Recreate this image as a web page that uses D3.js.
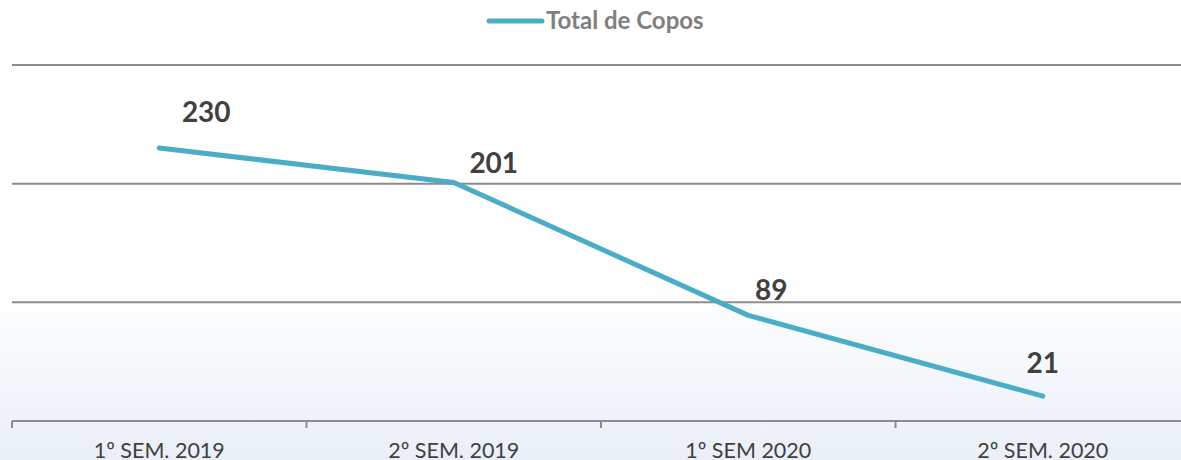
<!DOCTYPE html>
<html><head><meta charset="utf-8">
<script src="https://cdn.jsdelivr.net/npm/d3@7"></script>
<style>html,body{margin:0;padding:0;background:#fff;}svg{display:block;}</style>
</head><body>
<svg id="chart" width="1181" height="460"></svg>
<script>
const categories = ["1º SEM. 2019", "2º SEM. 2019", "1º SEM 2020", "2º SEM. 2020"];
const totalCopos = [230, 201, 89, 21];
const seriesName = "Total de Copos";
const yTicks = [0, 100, 200, 300];

const W = 1181, H = 460;
const svg = d3.select("#chart");
const defs = svg.append("defs");
const grad = defs.append("linearGradient").attr("id","bg").attr("x1",0).attr("y1",0).attr("x2",0).attr("y2",1);
grad.append("stop").attr("offset","0%").attr("stop-color","#ffffff");
grad.append("stop").attr("offset","62%").attr("stop-color","#ffffff");
grad.append("stop").attr("offset","100%").attr("stop-color","#eaeff7");
svg.append("rect").attr("width",W).attr("height",H).attr("fill","url(#bg)");

const x = d3.scaleBand().domain(categories).range([12, 1190]);
const y = d3.scaleLinear().domain([0, 300]).range([421, 65]);
const font = "Lato, 'Open Sans', sans-serif";

// gridlines
svg.append("g").selectAll("line").data(yTicks.filter(d => d > 0)).join("line")
  .attr("x1", 12).attr("x2", W).attr("y1", d => y(d)).attr("y2", d => y(d))
  .attr("stroke", "#8c8c8c").attr("stroke-width", 2);

// x axis
const xAxis = svg.append("g").attr("transform", `translate(0,${y(0)})`)
  .call(d3.axisBottom(x).tickSize(0).tickPadding(0));
xAxis.select(".domain").remove();
xAxis.selectAll("text").remove();
xAxis.append("line").attr("x1", 12).attr("x2", W).attr("stroke", "#8c8c8c").attr("stroke-width", 2);
const bounds = categories.map(c => x(c));
xAxis.selectAll(".tk").data(bounds).join("line").attr("class","tk")
  .attr("x1", d => d).attr("x2", d => d).attr("y1", 0).attr("y2", 7)
  .attr("stroke", "#8c8c8c").attr("stroke-width", 2);
xAxis.selectAll(".lbl").data(categories).join("text").attr("class","lbl")
  .attr("x", d => x(d) + x.bandwidth()/2).attr("y", 37)
  .attr("text-anchor","middle").attr("font-family", font).attr("font-size", 21.5)
  .attr("fill", "#404040").text(d => d);

// line
const cx = (d,i) => x(categories[i]) + x.bandwidth()/2;
const line = d3.line().x(cx).y(d => y(d));
svg.append("path").datum(totalCopos).attr("d", line)
  .attr("fill","none").attr("stroke","#4bacc6").attr("stroke-width",5)
  .attr("stroke-linecap","round").attr("stroke-linejoin","round");

// data labels (label offsets relative to the point)
const labelOffsets = [[47, -26], [40, -9], [23, -15], [0, -23]];
svg.append("g").selectAll("text").data(totalCopos).join("text")
  .attr("x", (d,i) => cx(d,i) + labelOffsets[i][0])
  .attr("y", (d,i) => y(d) + labelOffsets[i][1])
  .attr("text-anchor","middle").attr("font-family", font).attr("font-weight","bold")
  .attr("font-size", 28).attr("fill","#404040").text(d => d);

// legend
const lg = svg.append("g");
lg.append("line").attr("x1", 489).attr("x2", 542).attr("y1", 21).attr("y2", 21)
  .attr("stroke","#4bacc6").attr("stroke-width",5).attr("stroke-linecap","round");
lg.append("text").attr("x", 546).attr("y", 29).attr("font-family", font).attr("font-weight","bold")
  .attr("font-size", 24).attr("fill","#7f7f7f").text(seriesName);
</script>
</body></html>
